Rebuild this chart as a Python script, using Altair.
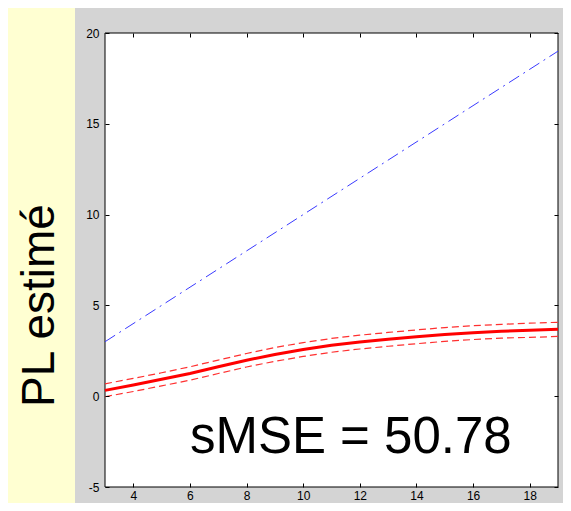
import altair as alt
import pandas as pd

# ---- data ----
x_red = list(range(3, 20))
red_fit = [0.32, 0.62, 0.93, 1.25, 1.62, 1.98, 2.30, 2.57, 2.80, 2.98,
           3.13, 3.27, 3.40, 3.50, 3.58, 3.63, 3.68]
red_upper = [0.68, 0.98, 1.29, 1.62, 1.99, 2.35, 2.68, 2.95, 3.18, 3.36,
             3.51, 3.65, 3.78, 3.88, 3.96, 4.02, 4.07]
red_lower = [-0.03, 0.26, 0.57, 0.88, 1.25, 1.61, 1.92, 2.19, 2.42, 2.60,
             2.75, 2.89, 3.02, 3.12, 3.20, 3.24, 3.29]
blue_x = [3, 19]
blue_y = [3, 19]
x_ticks = [4, 6, 8, 10, 12, 14, 16, 18]
y_ticks = [-5, 0, 5, 10, 15, 20]
annot_text = ["sMSE = 50.78"]
annot_x = [6.0]
annot_y = [-3.13]
y_title = "PL estimé"

W, H = 453, 454
FONT = "Liberation Sans"
YELLOW = "#FFFFD2"
GREY = "#D4D4D4"

red_df = pd.DataFrame({"x": x_red, "fit": red_fit, "up": red_upper, "lo": red_lower})
blue_df = pd.DataFrame({"x": blue_x, "y": blue_y})
txt_df = pd.DataFrame({"x": annot_x, "y": annot_y, "t": annot_text})
one = pd.DataFrame({"a": [0]})

xs = alt.Scale(domain=[3, 19], nice=False, zero=False)
ys = alt.Scale(domain=[-5, 20], nice=False, zero=False)

common = dict(offset=-4, tickSize=4, domain=False, grid=False, zindex=1,
              tickColor="black", tickWidth=1)

ax_bottom = alt.Axis(orient="bottom", values=x_ticks, labelPadding=3,
                     labelFont=FONT, labelFontSize=12, labelColor="black",
                     labelExpr="'' + datum.value", title=None, **common)
ax_left = alt.Axis(orient="left", values=y_ticks, labelPadding=6,
                   labelFont=FONT, labelFontSize=12, labelColor="black",
                   labelExpr="'' + datum.value",
                   title=y_title, titleFont=FONT, titleFontSize=46,
                   titleFontWeight="normal", titleColor="black",
                   titleAngle=270, titleX=-70, titleY=272,
                   titleAlign="center", titleBaseline="middle", **common)
ax_top = alt.Axis(orient="top", values=x_ticks, labels=False, title=None, **common)
ax_right = alt.Axis(orient="right", values=y_ticks, labels=False, title=None, **common)

grey_panel = alt.Chart(one).mark_rect(color=GREY).encode(
    x=alt.value(-30), x2=alt.value(W + 13), y=alt.value(-25), y2=alt.value(H + 24))
plot_bg = alt.Chart(one).mark_rect(fill="white", stroke="black", strokeWidth=1).encode(
    x=alt.value(0), x2=alt.value(W), y=alt.value(0), y2=alt.value(H))

blue = alt.Chart(blue_df).mark_line(color="#3a3aff", strokeWidth=1,
                                    strokeDash=[12, 5, 2, 5]).encode(
    x=alt.X("x:Q", scale=xs, axis=ax_bottom),
    y=alt.Y("y:Q", scale=ys, axis=ax_left))

red_main = alt.Chart(red_df).mark_line(color="#ff0000", strokeWidth=3).encode(
    x=alt.X("x:Q", scale=xs, axis=ax_top),
    y=alt.Y("fit:Q", scale=ys, axis=ax_right))

red_up = alt.Chart(red_df).mark_line(color="#ff3030", strokeWidth=1.2,
                                     strokeDash=[7, 4]).encode(
    x=alt.X("x:Q", scale=xs, axis=None),
    y=alt.Y("up:Q", scale=ys, axis=None))

red_lo = alt.Chart(red_df).mark_line(color="#ff3030", strokeWidth=1.2,
                                     strokeDash=[7, 4]).encode(
    x=alt.X("x:Q", scale=xs, axis=None),
    y=alt.Y("lo:Q", scale=ys, axis=None))

annot = alt.Chart(txt_df).mark_text(font=FONT, fontSize=51, color="black",
                                    align="left", baseline="alphabetic").encode(
    x=alt.X("x:Q", scale=xs, axis=None),
    y=alt.Y("y:Q", scale=ys, axis=None),
    text="t:N")

page_css = ("html{background:" + YELLOW + ";}"
            "body{background:" + GREY + ";margin:8px 0 0 8px;padding:0 0 8px 0;}")

chart = alt.layer(grey_panel, plot_bg, blue, red_up, red_lo, red_main, annot).resolve_axis(
    x="independent", y="independent"
).properties(
    width=W, height=H,
    autosize=alt.AutoSizeParams(type="none"),
    padding={"left": 97, "top": 25, "right": 5, "bottom": 16},
    background=YELLOW,
    usermeta={"embedOptions": {"defaultStyle": page_css}},
).configure_view(stroke=None)

chart.save("out.html", embed_options={"renderer": "svg", "actions": False})
